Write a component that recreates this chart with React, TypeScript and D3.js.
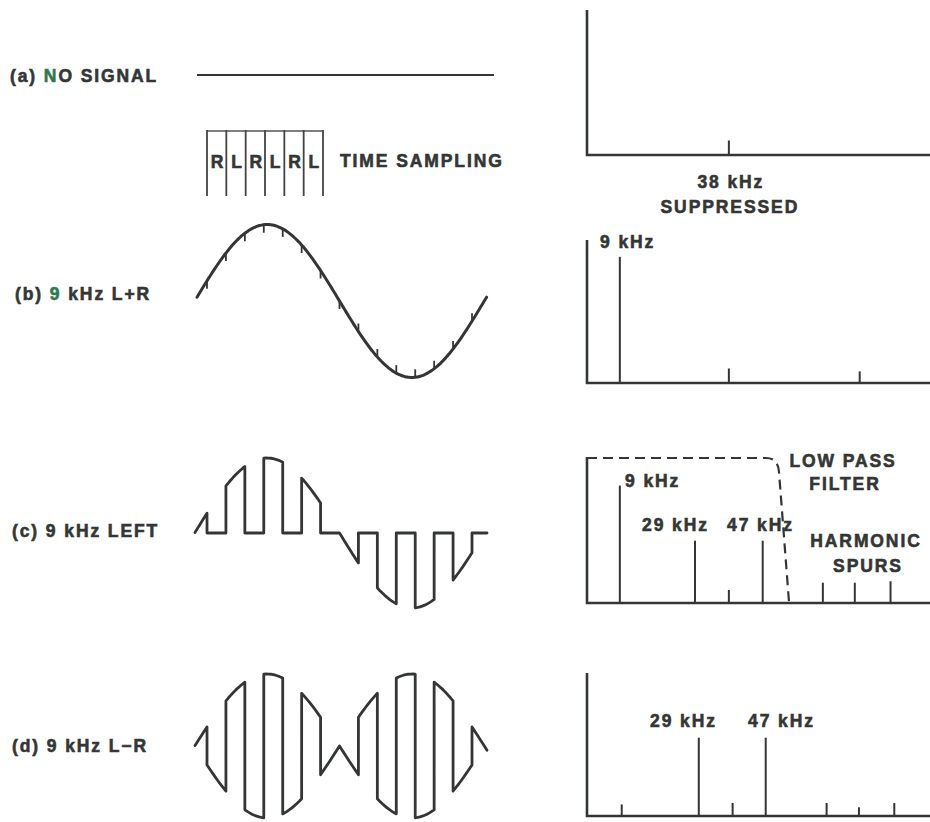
import React from "react";
import * as d3 from "d3";

// ---------------- data ----------------
const rowLabels = ["(a) NO SIGNAL", "(b) 9 kHz L+R", "(c) 9 kHz LEFT", "(d) 9 kHz L\u2212R"];
const rowAccentChar = ["N", "9", "", ""];
const samplingCells = ["R", "L", "R", "L", "R", "L"];
const samplingTitle = "TIME SAMPLING";
const sampleIndex = [0, 1, 2, 3, 4, 5, 6, 7, 8, 9, 10, 11, 12, 13, 14];
// sine, in sample-cell units
const sinePeriodSamples = 15.3;
const sinePhaseSamples = -0.65;

const freqDomain = [0, 91.5];
const specAFreq = [38];
const specAAmp = [0.1];
const specBFreq = [9, 38, 72.8];
const specBAmp = [0.87, 0.1, 0.08];
const specCFreq = [9, 29, 38, 47, 63, 71.5, 81];
const specCAmp = [0.81, 0.43, 0.09, 0.43, 0.14, 0.14, 0.15];
const specDFreq = [9.5, 30, 39, 47.8, 64, 72.6, 82];
const specDAmp = [0.08, 0.54, 0.09, 0.54, 0.09, 0.06, 0.09];

const captionA = ["38 kHz", "SUPPRESSED"];
const labelB = ["9 kHz"];
const labelC = ["9 kHz", "29 kHz", "47 kHz"];
const filterLabel = ["LOW PASS", "FILTER"];
const spurLabel = ["HARMONIC", "SPURS"];
const labelD = ["29 kHz", "47 kHz"];

// ---------------- layout ----------------
const W = 930;
const H = 822;
const INK = "#343636";
const FONT = "'Liberation Sans', Arial, Helvetica, sans-serif";
const FS = 17.5;
const LS = "1.9px";

const panelBase = [155, 383, 603, 816];
const panelTop = [10, 240, 457, 673];
const ampPx = 145;

const waveCenter = [75, 301, 533, 746];
const waveAmp = [0, 76.5, 75, 72];

const tScale = d3.scaleLinear().domain([0, 14]).range([207, 472]);
const fScale = d3.scaleLinear().domain(freqDomain).range([586, 930]);

const sig = (t: number) => Math.sin((2 * Math.PI * (t - sinePhaseSamples)) / sinePeriodSamples);

function yWave(row: number) {
  return d3
    .scaleLinear()
    .domain([-1, 1])
    .range([waveCenter[row] + waveAmp[row], waveCenter[row] - waveAmp[row]]);
}

function sampledPoints(mode: "left" | "diff", tStart: number, tEnd: number) {
  const pts: [number, number][] = [];
  const bounds = [tStart, ...sampleIndex, tEnd];
  for (let i = 0; i < bounds.length - 1; i++) {
    const a = bounds[i];
    const b = bounds[i + 1];
    const cell = Math.floor(a + 1e-6);
    const isL = Math.abs(cell % 2) === 1;
    const n = 8;
    for (let j = 0; j <= n; j++) {
      const t = a + ((b - a) * j) / n;
      const s = sig(t);
      const v = isL ? s : mode === "left" ? 0 : -s;
      pts.push([t, v]);
    }
  }
  return pts;
}

function Label({ x, y, text, accent, anchor = "start", spacing = LS }: any) {
  let content: any = text;
  if (accent) {
    const idx = text.indexOf(accent, 4);
    content = [
      <tspan key="a">{text.slice(0, idx)}</tspan>,
      <tspan key="b" fill="#2f7a4e" stroke="#2f7a4e">
        {accent}
      </tspan>,
      <tspan key="c">{text.slice(idx + 1)}</tspan>,
    ];
  }
  return (
    <text
      x={x}
      y={y}
      textAnchor={anchor}
      fontFamily={FONT}
      fontWeight="bold"
      fontSize={FS}
      fill={INK}
      stroke={INK}
      strokeWidth={0.6}
      style={{ letterSpacing: spacing }}
    >
      {content}
    </text>
  );
}

function Spectrum({ idx, freqs, amps }: { idx: number; freqs: number[]; amps: number[] }) {
  const base = panelBase[idx];
  const y = d3.scaleLinear().domain([0, 1]).range([base, base - ampPx]);
  const x0 = fScale(0) + 1;
  return (
    <g>
      <path
        d={`M${x0},${panelTop[idx]}V${base}H${W}`}
        fill="none"
        stroke={INK}
        strokeWidth={2.6}
      />
      {freqs.map((f, i) => (
        <line
          key={i}
          x1={fScale(f)}
          x2={fScale(f)}
          y1={base}
          y2={y(amps[i])}
          stroke={INK}
          strokeWidth={2}
        />
      ))}
    </g>
  );
}

export default function App() {
  const tB0 = tScale.invert(197);
  const tC0 = tScale.invert(195);
  const tEnd = tScale.invert(487);

  const yB = yWave(1);
  const yC = yWave(2);
  const yD = yWave(3);

  const sineLine = d3
    .line<number>()
    .x((t) => tScale(t))
    .y((t) => yB(sig(t)))
    .curve(d3.curveBasis);
  const sineTs = d3.range(tB0, tEnd + 0.001, 0.1);

  const stepLine = (ys: any) =>
    d3
      .line<[number, number]>()
      .x((p) => tScale(p[0]))
      .y((p) => ys(p[1]));

  const ptsC = sampledPoints("left", tC0, tEnd);
  const ptsD = sampledPoints("diff", tC0, tEnd);

  const cellW = (323 - 207) / samplingCells.length;
  const yC_filter = panelTop[2] + 1;

  return (
    <svg
      width={W}
      height={H}
      viewBox={`0 0 ${W} ${H}`}
      style={{ position: "absolute", left: 0, top: 0, background: "#fff" }}
    >
      <rect x={0} y={0} width={W} height={H} fill="#fff" />

      {/* Row labels */}
      <Label x={10} y={82} text={rowLabels[0]} accent={rowAccentChar[0]} />
      <Label x={15} y={300} text={rowLabels[1]} accent={rowAccentChar[1]} />
      <Label x={12} y={537} text={rowLabels[2]} />
      <Label x={12} y={752} text={rowLabels[3]} />

      {/* (a) no signal */}
      <line x1={197} x2={494} y1={waveCenter[0]} y2={waveCenter[0]} stroke={INK} strokeWidth={2.2} />

      {/* time sampling box */}
      <g>
        <line x1={207} x2={323} y1={131} y2={131} stroke="#555" strokeWidth={1.4} />
        {d3.range(samplingCells.length + 1).map((i) => (
          <line
            key={i}
            x1={207 + i * cellW}
            x2={207 + i * cellW}
            y1={130}
            y2={196}
            stroke="#444"
            strokeWidth={1.8}
          />
        ))}
        {samplingCells.map((c, i) => (
          <Label key={i} x={207 + (i + 0.5) * cellW + 0.5} y={168} text={c} anchor="middle" spacing="0px" />
        ))}
        <Label x={340} y={167} text={samplingTitle} />
      </g>

      {/* (b) sine with sample ticks */}
      <path d={sineLine(sineTs) || ""} fill="none" stroke={INK} strokeWidth={3} strokeLinecap="round" />
      {sampleIndex.map((k) => {
        const s = sig(k);
        const yc = yB(s);
        const dir = s >= 0 ? 1 : -1;
        return (
          <line
            key={k}
            x1={tScale(k)}
            x2={tScale(k)}
            y1={yc}
            y2={yc + dir * 8}
            stroke={INK}
            strokeWidth={1.8}
          />
        );
      })}

      {/* (c) left-only sampled */}
      <path
        d={stepLine(yC)(ptsC) || ""}
        fill="none"
        stroke={INK}
        strokeWidth={2.8}
        strokeLinejoin="round"
        strokeLinecap="round"
      />

      {/* (d) L-R sampled */}
      <path
        d={stepLine(yD)(ptsD) || ""}
        fill="none"
        stroke={INK}
        strokeWidth={2.8}
        strokeLinejoin="round"
        strokeLinecap="round"
      />

      {/* Spectra */}
      <Spectrum idx={0} freqs={specAFreq} amps={specAAmp} />
      <Spectrum idx={1} freqs={specBFreq} amps={specBAmp} />
      <Spectrum idx={2} freqs={specCFreq} amps={specCAmp} />
      <Spectrum idx={3} freqs={specDFreq} amps={specDAmp} />

      {/* (a) captions */}
      <Label x={fScale(38) + 2} y={188} text={captionA[0]} anchor="middle" />
      <Label x={fScale(38) + 1} y={213} text={captionA[1]} anchor="middle" />

      {/* (b) */}
      <Label x={600} y={248} text={labelB[0]} />

      {/* (c) */}
      <path
        d={`M${fScale(0) + 1},${yC_filter}H766Q778,${yC_filter} 779,472L789,602`}
        fill="none"
        stroke={INK}
        strokeWidth={2.2}
        strokeDasharray="10 6"
      />
      <Label x={625} y={487} text={labelC[0]} />
      <Label x={642} y={531} text={labelC[1]} />
      <Label x={727} y={531} text={labelC[2]} />
      <Label x={843} y={467} text={filterLabel[0]} anchor="middle" />
      <Label x={845} y={490} text={filterLabel[1]} anchor="middle" />
      <Label x={866} y={547} text={spurLabel[0]} anchor="middle" />
      <Label x={868} y={572} text={spurLabel[1]} anchor="middle" />

      {/* (d) */}
      <Label x={650} y={727} text={labelD[0]} />
      <Label x={748} y={727} text={labelD[1]} />
    </svg>
  );
}
